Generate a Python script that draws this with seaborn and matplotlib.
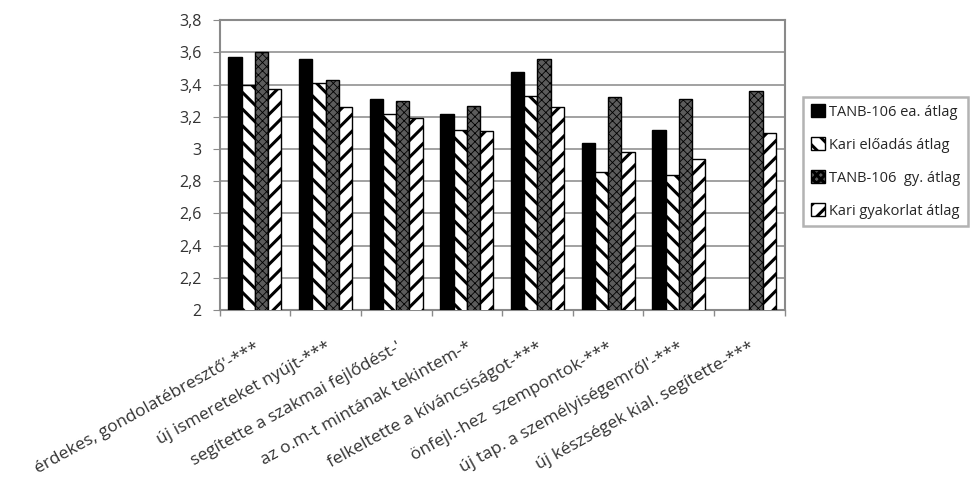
import pandas as pd
import numpy as np
import seaborn as sns
import matplotlib.pyplot as plt
from matplotlib.ticker import FuncFormatter, FixedLocator
from matplotlib.transforms import ScaledTranslation
from matplotlib.patches import Patch

# kategoriak (x tengely feliratai)
kategoriak = [
    "érdekes, gondolatébresztő'-***",
    "új ismereteket nyújt-***",
    "segítette a szakmai fejlődést-'",
    "az o.m-t mintának tekintem-*",
    "felkeltette a kíváncsiságot-***",
    "önfejl.-hez  szempontok-***",
    "új tap. a személyiségemről'-***",
    "új készségek kial. segítette-***",
]
sorozatok = ["TANB-106 ea. átlag", "Kari előadás átlag",
             "TANB-106  gy. átlag", "Kari gyakorlat átlag"]

tanb_ea = [3.57, 3.56, 3.31, 3.22, 3.48, 3.04, 3.12, np.nan]
kari_ea = [3.40, 3.41, 3.22, 3.12, 3.33, 2.86, 2.84, np.nan]
tanb_gy = [3.60, 3.43, 3.30, 3.27, 3.56, 3.32, 3.31, 3.36]
kari_gy = [3.37, 3.26, 3.19, 3.11, 3.26, 2.98, 2.94, 3.10]

df = pd.DataFrame({
    'kat': kategoriak * 4,
    'sorozat': np.repeat(sorozatok, len(kategoriak)),
    'ertek': tanb_ea + kari_ea + tanb_gy + kari_gy,
})

sns.set_style("white")
plt.rcParams['font.family'] = ['Open Sans', 'DejaVu Sans']
plt.rcParams['hatch.linewidth'] = 2.2

fig = plt.figure(figsize=(9.76, 4.8), dpi=100)
ax = fig.add_axes([0.225, 0.354, 0.579, 0.604])

sns.barplot(data=df, x='kat', y='ertek', hue='sorozat', order=kategoriak,
            hue_order=sorozatok, width=0.75, gap=0, ax=ax,
            edgecolor='black', linewidth=1, legend=False, zorder=3)

# mintazatok
stilus = [
    dict(fc='black', hatch=None),
    dict(fc='white', hatch='\\\\'),
    dict(fc='#5c5c5c', hatch='xxxx'),
    dict(fc='white', hatch='//'),
]
for cont, st in zip(ax.containers, stilus):
    for p in cont:
        p.set_facecolor(st['fc'])
        p.set_edgecolor('black')
        if st['hatch']:
            p.set_hatch(st['hatch'])
            if st['hatch'] == 'xxxx' and hasattr(p, 'set_hatch_linewidth'):
                p.set_hatch_linewidth(0.6)

ax.set_ylim(2, 3.8)
ax.set_xlim(-0.5, 7.5)
ax.set_yticks(np.arange(2, 3.81, 0.2))
ax.yaxis.set_major_formatter(FuncFormatter(lambda v, _: f"{v:.1f}".rstrip('0').rstrip('.').replace('.', ',')))
ax.yaxis.grid(True, color='#9a9a9a', linewidth=1.3, zorder=0)
ax.set_axisbelow(True)
for s in ax.spines.values():
    s.set_color('#8a8a8a')
    s.set_linewidth(1.5)

ax.set_xlabel('')
ax.set_ylabel('')
ax.set_xticks(range(len(kategoriak)))
ax.set_xticklabels(kategoriak, rotation=29, ha='right', rotation_mode='anchor',
                   fontsize=12.5, color='#333333')
for lab in ax.get_xticklabels():
    lab.set_transform(lab.get_transform() + ScaledTranslation(-0.12, 0, fig.dpi_scale_trans))
ax.tick_params(axis='x', which='major', length=0, pad=21)
ax.xaxis.set_minor_locator(FixedLocator(np.arange(-0.5, 8, 1)))
ax.tick_params(axis='x', which='minor', length=4, color='#8a8a8a', width=1, bottom=True)
ax.tick_params(axis='y', length=5, color='#8a8a8a', left=True, labelsize=11.5,
               labelcolor='#333333', pad=8)

# jelmagyarazat
kezelok = [Patch(facecolor=st['fc'], edgecolor='black', hatch=st['hatch'])
           for st in stilus]
leg = ax.legend(kezelok, sorozatok, loc='upper left',
                bbox_to_anchor=(0.823, 0.798), bbox_transform=fig.transFigure,
                fontsize=10.5, frameon=True, fancybox=False, shadow=False,
                handlelength=1.0, handleheight=1.0, handletextpad=0.3,
                labelspacing=1.2, borderpad=0.5, borderaxespad=0)
leg.get_frame().set_edgecolor('#a0a0a0')
leg.get_frame().set_linewidth(1.8)

plt.savefig('out.png', dpi=100)
